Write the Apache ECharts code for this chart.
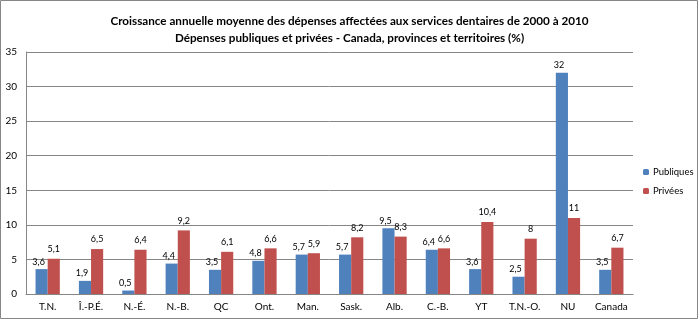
<!DOCTYPE html>
<html><head><meta charset="utf-8">
<script src="https://cdn.jsdelivr.net/npm/echarts@6/dist/echarts.min.js"></script>
<style>html,body{margin:0;padding:0;background:#fff}#c{width:699px;height:321px}</style>
</head><body><div id="c"></div>
<script>
const categories = ['T.N.','Î.-P.É.','N.-É.','N.-B.','QC','Ont.','Man.','Sask.','Alb.','C.-B.','YT','T.N.-O.','NU','Canada'];
const publiques = [3.6,1.9,0.5,4.4,3.5,4.8,5.7,5.7,9.5,6.4,3.6,2.5,32,3.5];
const privees = [5.1,6.5,6.4,9.2,6.1,6.6,5.9,8.2,8.3,6.6,10.4,8,11,6.7];
const yTicks = [0,5,10,15,20,25,30,35];
const titleLines = ['Croissance annuelle moyenne des dépenses affectées aux services dentaires de 2000 à 2010','Dépenses publiques et privées - Canada, provinces et territoires (%)'];

const font = 'Lato, "Open Sans", sans-serif';
const fmt = p => String(p.value).replace('.', ',');
const chart = echarts.init(document.getElementById('c'));
chart.setOption({
  animation: false,
  backgroundColor: '#fff',
  graphic: [{type:'rect', shape:{x:0.5,y:0.5,width:697,height:318}, style:{fill:'none', stroke:'#868686', lineWidth:1}}],
  title: {
    text: titleLines.join('\n'), left: 'center', top: 8,
    textStyle: {fontFamily: font, fontSize: 11.7, fontWeight: 'bold', color: '#000', lineHeight: 17}
  },
  legend: {
    orient: 'vertical', left: 638, top: 162, itemWidth: 6, itemHeight: 6, itemGap: 9,
    textStyle: {fontFamily: font, fontSize: 9.5, color: '#000', padding: [0,0,0,-1]},
    data: ['Publiques','Privées']
  },
  grid: {left: 26, right: 66, top: 52, bottom: 27, containLabel: false},
  xAxis: {
    type: 'category', data: categories,
    axisLine: {lineStyle: {color: '#868686'}},
    axisTick: {show: false},
    axisLabel: {interval: 0, fontFamily: font, fontSize: 10, color: '#000', margin: 8}
  },
  yAxis: {
    type: 'value', min: 0, max: 35, interval: 5,
    axisLine: {show: true, lineStyle: {color: '#868686'}},
    axisTick: {show: false},
    splitLine: {lineStyle: {color: '#868686'}},
    axisLabel: {fontFamily: font, fontSize: 10, color: '#000', margin: 9,
      formatter: v => yTicks.includes(v) ? String(v) : ''}
  },
  series: [
    {name: 'Publiques', type: 'bar', data: publiques, barGap: '0%', barCategoryGap: '44%',
     itemStyle: {color: '#4F81BD'},
     label: {show: true, position: 'top', distance: 3, formatter: fmt, fontFamily: font, fontSize: 9, color: '#000', offset:[-3,0]}},
    {name: 'Privées', type: 'bar', data: privees,
     itemStyle: {color: '#C0504D'},
     label: {show: true, position: 'top', distance: 5, formatter: fmt, fontFamily: font, fontSize: 9, color: '#000'}}
  ]
});
</script></body></html>
